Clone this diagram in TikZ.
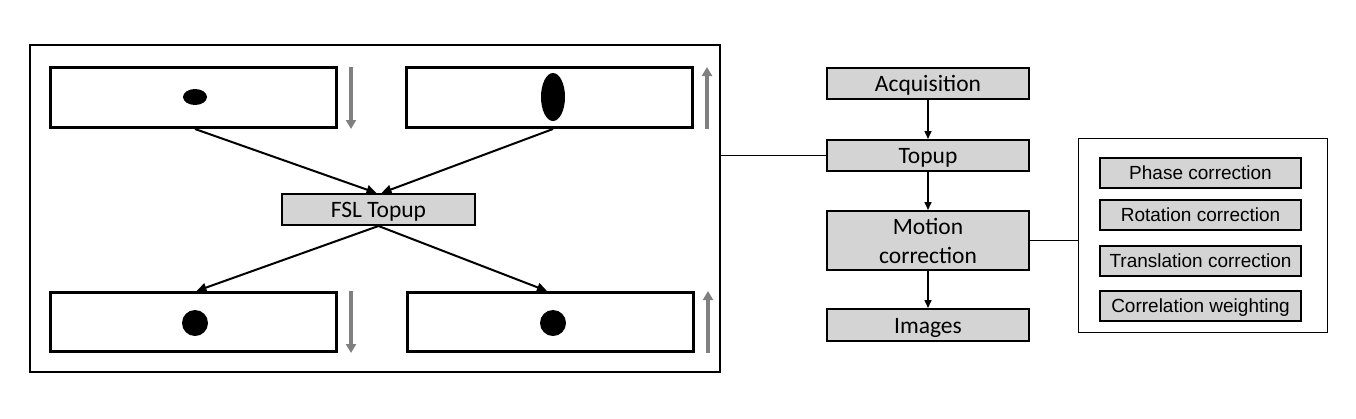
\documentclass[tikz,border=0pt]{standalone}
\usepackage{fontspec}
\setmainfont{Carlito}
\newfontfamily\arialf{Liberation Sans}
\usetikzlibrary{arrows.meta,shapes.geometric}
\definecolor{boxgray}{RGB}{212,212,212}
\definecolor{arrgray}{RGB}{128,128,128}
\tikzset{
  imgbox/.style={draw,line width=3pt,minimum width=286pt,minimum height=60pt,inner sep=0pt},
  graybox/.style={draw,line width=2pt,fill=boxgray,minimum width=202pt,minimum height=31pt,inner sep=0pt,align=center,text height=17pt,text depth=1pt,font=\fontsize{23.5}{29}\selectfont},
  subbox/.style={draw,line width=2pt,fill=boxgray,minimum width=201pt,minimum height=30pt,inner sep=0pt,text height=14.5pt,text depth=1pt,font=\arialf\fontsize{19}{22}\selectfont},
  frame/.style={draw,line width=1.5pt,inner sep=0pt},
  arr/.style={line width=2pt,-{Triangle[length=10pt,width=9pt]}},
  farr/.style={line width=1.5pt,-{Triangle[length=8pt,width=7pt]}},
  garr/.style={draw=arrgray,line width=3.5pt,-{Triangle[length=9pt,width=10pt]}},
  link/.style={line width=1.5pt}
}
\begin{document}
\begin{tikzpicture}[x=1pt,y=-1pt]
\useasboundingbox (0,0) rectangle (1356,418);
% left frame
\node[frame,minimum width=690pt,minimum height=327pt] (lframe) at (375,208.5) {};
\node[imgbox] (tl) at (193.5,97.5) {};
\node[imgbox] (tr) at (549,97.5) {};
\node[imgbox,minimum height=59pt] (bl) at (193.5,322) {};
\node[imgbox,minimum height=59pt] (br) at (550,322) {};
\fill (195,97) ellipse [x radius=12,y radius=8];
\fill (553,97) ellipse [x radius=12,y radius=24];
\fill (195,323) circle [radius=13];
\fill (553,323) circle [radius=13];
\draw[garr] (351,67) -- (351,129);
\draw[garr] (707,129) -- (707,67);
\draw[garr] (351,291) -- (351,353);
\draw[garr] (708,353) -- (708,291);
\node[graybox,minimum width=193pt] (fsl) at (378.5,209.5) {FSL Topup};
\draw[arr] ([xshift=1.5pt]tl.south) -- ([xshift=-2pt]fsl.north);
\draw[arr] ([xshift=4pt]tr.south) -- ([xshift=3pt]fsl.north);
\draw[arr] (fsl.south) -- ([xshift=3pt]bl.north);
\draw[arr] (fsl.south) -- ([xshift=-3pt]br.north);
% flow
\node[graybox] (acq) at (928,83.5) {Acquisition};
\node[graybox] (top) at (928,155.5) {Topup};
\node[graybox,minimum height=59pt,text height=,text depth=] (mot) at (928,240.5) {Motion\\correction};
\node[graybox,minimum height=32pt] (img) at (928,325) {Images};
\draw[farr] (acq) -- (top);
\draw[farr] (top) -- (mot);
\draw[farr] (mot) -- (img);
\draw[link] (top.west) -- (lframe.east |- top.west);
% right frame
\node[frame,minimum width=249pt,minimum height=194pt] (rframe) at (1203,235.5) {};
\draw[link] (mot.east) -- (rframe.west |- mot.east);
\node[subbox] (ph) at (1200.5,173) {Phase correction};
\node[subbox] (ro) at (1200.5,215) {Rotation correction};
\node[subbox] (tra) at (1200.5,260.5) {Translation correction};
\node[subbox] (co) at (1200.5,305.5) {Correlation weighting};
\end{tikzpicture}
\end{document}
